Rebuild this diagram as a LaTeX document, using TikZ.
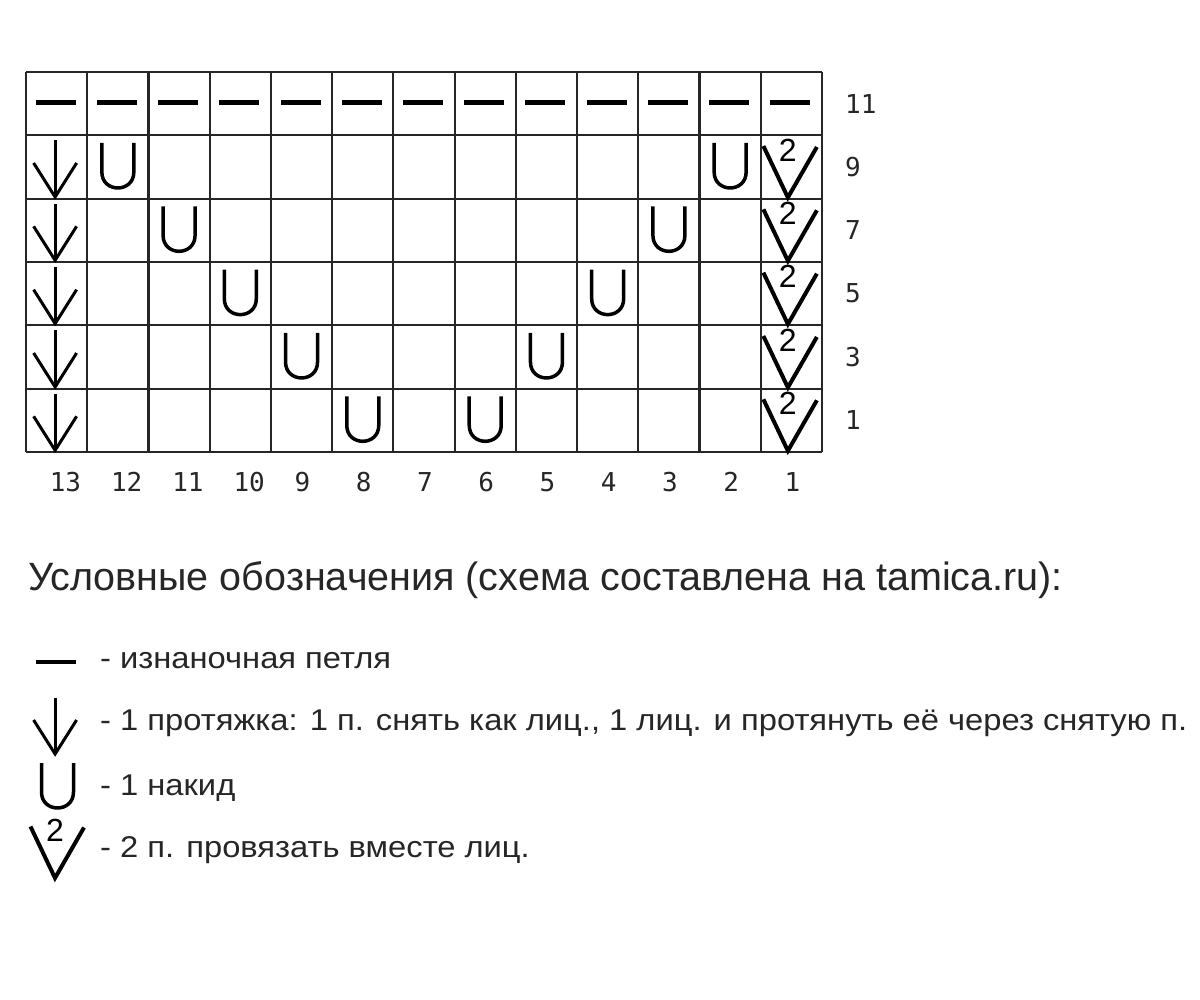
\documentclass[tikz,border=0pt]{standalone}
\usepackage{fontspec}
\setmainfont{Liberation Sans}
\newfontfamily\numfont{DejaVu Sans Mono}
\newfontfamily\legfont[FakeStretch=1.09]{Liberation Sans}
\begin{document}
\begin{tikzpicture}[x=1pt,y=-1pt,
  gridline/.style={line width=2.2pt, black!85},
  numlabel/.style={font=\numfont\fontsize{26}{28}\selectfont, inner sep=0pt, anchor=west, text=black!85},
  legtext/.style={font=\legfont\fontsize{30}{34}\selectfont, inner sep=0pt, anchor=base west, text=black!85},
  purlst/.pic={\draw[line width=4.5pt] (-21,-1) -- (19,-1);},
  slipst/.pic={\draw[line width=3pt] (-1.5,-26.5) -- (-1.5,30);
               \draw[line width=3pt] (-23,-4) -- (-1.5,30) -- (20,-4);},
  yost/.pic={\draw[line width=3.5pt] (-16,-24) -- (-16,5) .. controls (-16,26.3) and (16,26.3) .. (16,5) -- (16,-24);},
  ktogst/.pic={\draw[line width=4pt] (-28,-21) -- (-3.5,30.5) -- (25.5,-20);
               \node[font=\fontsize{32}{32}\selectfont, inner sep=0pt] (two) at (-3.5,-17) {2};}
]
\useasboundingbox[fill=white] (0,0) rectangle (1200,1000);
% grid
\foreach \c in {0,...,13} \draw[gridline] ({26+61.23*\c},72) -- ({26+61.23*\c},452);
\foreach \r in {0,...,6} \draw[gridline] (26,{72+63.33*\r}) -- (822,{72+63.33*\r});
% row 11: purl
\foreach \c in {1,...,13} \pic at ({26+61.23*(\c-0.5)},{72+63.33*0.5}) {purlst};
% rows 9..1
\foreach \r/\a/\b in {2/2/12,3/3/11,4/4/10,5/5/9,6/6/8}{
  \pic at ({26+61.23*0.5},{72+63.33*(\r-0.5)}) {slipst};
  \pic at ({26+61.23*(\a-0.5)},{72+63.33*(\r-0.5)}) {yost};
  \pic at ({26+61.23*(\b-0.5)},{72+63.33*(\r-0.5)}) {yost};
  \pic at ({26+61.23*12.5},{72+63.33*(\r-0.5)}) {ktogst};
}
% row labels
\foreach \r/\t in {1/11,2/9,3/7,4/5,5/3,6/1}
  \node[numlabel] (rl\r) at (845,{72+63.33*(\r-0.5)}) {\t};
% column labels
\foreach \c in {1,...,13}{
  \pgfmathtruncatemacro{\lab}{14-\c}
  \node[numlabel] (cl\c) at ({26+61.23*(\c-0.5)-7},482) {\lab};
}
% legend
\node[font=\fontsize{39.5}{42}\selectfont, inner sep=0pt, anchor=base west, text=black!85] (head) at (28,590)
  {Условные обозначения (схема составлена на tamica.ru):};
\pic at (56.6,663) {purlst};
\node[legtext] (leg1) at (100,668) {- изнаночная петля};
\pic at (56.6,724) {slipst};
\node[legtext] (leg2) at (100,730) {- 1 протяжка: 1 п. снять как лиц., 1 лиц. и протянуть её через снятую п.};
\pic at (57.5,787) {yost};
\node[legtext] (leg3) at (100,795) {- 1 накид};
\pic at (58.5,847.5) {ktogst};
\node[legtext] (leg4) at (100,857) {- 2 п. провязать вместе лиц.};
\end{tikzpicture}
\end{document}
